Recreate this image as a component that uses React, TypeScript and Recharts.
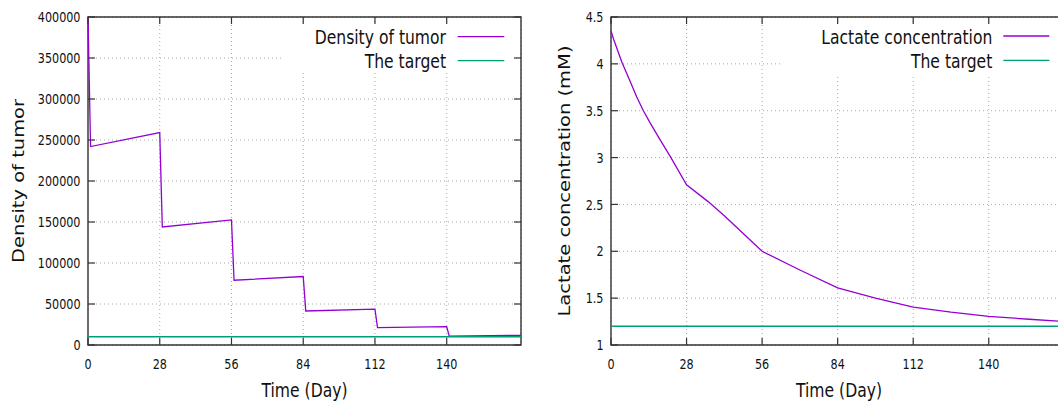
import React from 'react';
import {
  LineChart,
  Line,
  XAxis,
  YAxis,
  CartesianGrid,
  Legend,
  ReferenceArea,
} from 'recharts';

// ---- shared axis values ----
const dayTicks = [0, 28, 56, 84, 112, 140];
const dayMax = 169;

// ---- tumour density panel ----
const tumorDays = [0, 1, 28, 29, 56, 57, 84, 85, 112, 113, 140, 141, 169];
const tumorDensity = [
  400000, 242000, 259000, 144000, 152500, 79000, 83500, 41500, 43800, 21200,
  22300, 10900, 11800,
];
const tumorTarget = 10000;
const tumorTicks = [0, 50000, 100000, 150000, 200000, 250000, 300000, 350000, 400000];

// ---- lactate panel ----
const lactateDays = [
  0, 1, 4, 7, 9.5, 12, 14.5, 18, 22, 28, 36, 42, 49, 56, 70, 84, 98, 112, 126,
  140, 155, 169,
];
const lactateConc = [
  4.35, 4.26, 4.02, 3.82, 3.65, 3.5, 3.37, 3.2, 3.01, 2.71, 2.53, 2.38, 2.19,
  2.0, 1.8, 1.61, 1.5, 1.405, 1.35, 1.305, 1.275, 1.248,
];
const lactateTarget = 1.2;
const lactateTicks = [1, 1.5, 2, 2.5, 3, 3.5, 4, 4.5];

// ---- styling ----
const FONT = 'DejaVu Sans';
const SQUEEZE = 0.8;
const TEXT_COLOR = '#111';
const BORDER = '#333';
const TICK_LEN = 7;
const PURPLE = '#9400D3';
const GREEN = '#009E73';
const GRID = '#a8a8a8';

type PanelProps = {
  left: number;
  width: number;
  plotLeft: number;
  plotRight: number;
  yMin: number;
  yMax: number;
  yTicks: number[];
  yTitle: string;
  yTitleX: number;
  days: number[];
  values: number[];
  seriesName: string;
  target: number;
  legend: {
    left: number;
    width: number;
    height: number;
    textRight: number;
    lineFrom: number;
    lineTo: number;
    rows: number[];
  };
};

const PLOT_TOP = 17;
const PLOT_BOTTOM = 345;
const CHART_H = 403;

function Panel(p: PanelProps) {
  const series = p.days.map((d, i) => ({ day: d, value: p.values[i] }));
  const targetSeries = [
    { day: 0, value: p.target },
    { day: dayMax, value: p.target },
  ];
  const plotRightLocal = p.plotRight - p.left;
  const plotLeftLocal = p.plotLeft - p.left;

  const xTick = (props: any) => {
    const { x, payload } = props;
    return (
      <g>
        <line x1={x} x2={x} y1={PLOT_BOTTOM} y2={PLOT_BOTTOM - TICK_LEN} stroke={BORDER} strokeWidth={1.2} />
        <line x1={x} x2={x} y1={PLOT_TOP} y2={PLOT_TOP + TICK_LEN} stroke={BORDER} strokeWidth={1.2} />
        <text
          transform={`translate(${x},${PLOT_BOTTOM + 24}) scale(${SQUEEZE},1)`}
          textAnchor="middle"
          fontFamily={FONT}
          fontSize={14}
          fill={TEXT_COLOR}
        >
          {payload.value}
        </text>
      </g>
    );
  };

  const yTick = (props: any) => {
    const { y, payload } = props;
    return (
      <g>
        <line x1={plotLeftLocal} x2={plotLeftLocal + TICK_LEN} y1={y} y2={y} stroke={BORDER} strokeWidth={1.2} />
        <line x1={plotRightLocal} x2={plotRightLocal - TICK_LEN} y1={y} y2={y} stroke={BORDER} strokeWidth={1.2} />
        <text
          transform={`translate(${plotLeftLocal - 7.5},${y + 5.2}) scale(${SQUEEZE},1)`}
          textAnchor="end"
          fontFamily={FONT}
          fontSize={14}
          fill={TEXT_COLOR}
        >
          {payload.value}
        </text>
      </g>
    );
  };

  const xTitle = (props: any) => {
    const vb = props.viewBox || {};
    const cx = (vb.x ?? plotLeftLocal) + (vb.width ?? plotRightLocal - plotLeftLocal) / 2;
    return (
      <text
        transform={`translate(${cx},396.5) scale(${SQUEEZE},1)`}
        textAnchor="middle"
        fontFamily={FONT}
        fontSize={19.5}
        fill={TEXT_COLOR}
      >
        Time (Day)
      </text>
    );
  };

  const yTitle = (props: any) => {
    const vb = props.viewBox || {};
    const cy = (vb.y ?? PLOT_TOP) + (vb.height ?? PLOT_BOTTOM - PLOT_TOP) / 2;
    return (
      <text
        transform={`translate(${p.yTitleX - p.left},${cy}) scale(${SQUEEZE},1) rotate(-90)`}
        textAnchor="middle"
        fontFamily={FONT}
        fontSize={19.5}
        fill={TEXT_COLOR}
      >
        {p.yTitle}
      </text>
    );
  };

  const lg = p.legend;
  const legendContent = (props: any) => {
    const items = props.payload || [];
    return (
      <svg width={lg.width} height={lg.height} style={{ display: 'block' }}>
        <rect x={0} y={0} width={lg.width} height={lg.height} fill="#fff" />
        {items.map((it: any, i: number) => (
          <g key={it.value}>
            <text
              transform={`translate(${lg.textRight},${lg.rows[i] + 7.5}) scale(${SQUEEZE},1)`}
              textAnchor="end"
              fontFamily={FONT}
              fontSize={19.5}
              fill={TEXT_COLOR}
            >
              {it.value}
            </text>
            <line
              x1={lg.lineFrom}
              x2={lg.lineTo}
              y1={lg.rows[i]}
              y2={lg.rows[i]}
              stroke={it.color}
              strokeWidth={1.3}
            />
          </g>
        ))}
      </svg>
    );
  };

  return (
    <div style={{ position: 'absolute', left: p.left, top: 0 }}>
      <LineChart
        width={p.width}
        height={CHART_H}
        margin={{ top: PLOT_TOP, right: p.left + p.width - p.plotRight, bottom: 0, left: 0 }}
      >
        <CartesianGrid stroke={GRID} strokeDasharray="1 3" />
        <XAxis
          type="number"
          dataKey="day"
          domain={[0, dayMax]}
          ticks={dayTicks}
          interval={0}
          height={CHART_H - PLOT_BOTTOM}
          axisLine={false}
          tickLine={false}
          tick={xTick}
          label={{ content: xTitle }}
        />
        <YAxis
          type="number"
          domain={[p.yMin, p.yMax]}
          ticks={p.yTicks}
          interval={0}
          width={plotLeftLocal}
          axisLine={false}
          tickLine={false}
          tick={yTick}
          label={{ content: yTitle }}
        />
        <ReferenceArea
          x1={0}
          x2={dayMax}
          y1={p.yMin}
          y2={p.yMax}
          fill="none"
          fillOpacity={0}
          stroke={BORDER}
          strokeWidth={1.4}
          ifOverflow="visible"
        />
        <Line
          data={series}
          dataKey="value"
          name={p.seriesName}
          stroke={PURPLE}
          strokeWidth={1.3}
          dot={false}
          activeDot={false}
          isAnimationActive={false}
        />
        <Line
          data={targetSeries}
          dataKey="value"
          name="The target"
          stroke={GREEN}
          strokeWidth={1.4}
          dot={false}
          activeDot={false}
          isAnimationActive={false}
        />
        <Legend
          layout="horizontal"
          verticalAlign="middle"
          align="center"
          content={legendContent}
          wrapperStyle={{
            position: 'absolute',
            left: lg.left - p.left,
            top: 24,
            width: lg.width,
            height: lg.height,
            margin: 0,
            padding: 0,
            lineHeight: 0,
          }}
        />
      </LineChart>
    </div>
  );
}

export default function App() {
  return (
    <div
      style={{
        position: 'absolute',
        left: 0,
        top: 0,
        width: 1058,
        height: 403,
        overflow: 'hidden',
        background: '#fff',
      }}
    >
      <Panel
        left={0}
        width={530}
        plotLeft={88}
        plotRight={521}
        yMin={0}
        yMax={400000}
        yTicks={tumorTicks}
        yTitle="Density of tumor"
        yTitleX={24}
        days={tumorDays}
        values={tumorDensity}
        seriesName="Density of tumor"
        target={tumorTarget}
        legend={{
          left: 284,
          width: 230,
          height: 48,
          textRight: 162,
          lineFrom: 173.7,
          lineTo: 220.3,
          rows: [12.7, 36.7],
        }}
      />
      <Panel
        left={540}
        width={540}
        plotLeft={611}
        plotRight={1067}
        yMin={1}
        yMax={4.5}
        yTicks={lactateTicks}
        yTitle="Lactate concentration (mM)"
        yTitleX={569.5}
        days={lactateDays}
        values={lactateConc}
        seriesName="Lactate concentration"
        target={lactateTarget}
        legend={{
          left: 782,
          width: 298,
          height: 51,
          textRight: 210.3,
          lineFrom: 221.3,
          lineTo: 267.3,
          rows: [12, 36.3],
        }}
      />
    </div>
  );
}
